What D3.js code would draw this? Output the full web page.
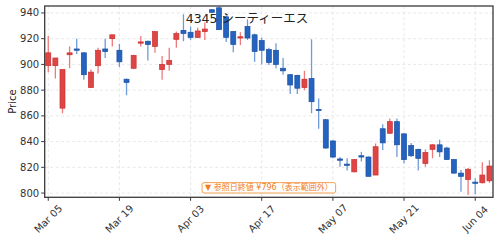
<!DOCTYPE html>
<html>
<head>
  <meta charset="utf-8">
  <title>4345 シーティーエス</title>
  <script src="https://d3js.org/d3.v7.min.js"></script>
  <style>
    body { margin: 0; background: #fff; }
    svg { font-family: "DejaVu Sans", "Noto Sans CJK JP", sans-serif; }
  </style>
</head>
<body>
<svg class="chart"></svg>
<script>

// trading days (2026), one per candle
const dates = [
  "03-05","03-06","03-09","03-10","03-11","03-12","03-13","03-16","03-17","03-18",
  "03-19","03-23","03-24","03-25","03-26","03-27","03-30","03-31","04-01","04-02",
  "04-03","04-06","04-07","04-08","04-09","04-10","04-13","04-14","04-15","04-16",
  "04-17","04-20","04-21","04-22","04-23","04-24","04-27","04-28","04-30","05-01",
  "05-07","05-08","05-11","05-12","05-13","05-14","05-15","05-18","05-19","05-20",
  "05-21","05-22","05-25","05-26","05-27","05-28","05-29","06-01","06-02","06-03",
  "06-04","06-05","06-08"
];

// OHLC
const open = [899,899,866,907.5,912,909,882,899,912,920, 911,888.5,897,916.5,918,914,896,900,919.5,926.5,
  925,921,925.5,942.5,944,937,925.5,920.5,929.5,923, 918.5,911.5,911,897,892,891.5,882,889,865,857,
  840.5,826.5,822.5,816.5,829,828,814,850,846.5,855.5, 846,837,834,823,834,837.5,835,826,815.5,810.5,
  808.5,808,809.5];
const high = [922,905,896,914,920,909.5,896,913,920,923, 916,889,907.5,922,918.5,925.5,906.5,913,925.5,939,
  929.5,928.5,932.5,943,945,938,926,925,935,924, 921,913,916.5,905,892.5,892,895,919.5,873.5,857.5,
  841,828,827,826.5,832,828.5,838.5,853.5,858,858, 846.5,839,834.5,834,838,841.5,836,826.5,818,819.5,
  811.5,824,825.5];
const low = [894,889,862,897,908,888,882,893,905,914, 898,876,896.5,914,903,909,888,895,913,918,
  919,920.5,919,940,927,917.5,909.5,915,919,902, 900,899.5,897,892,877,877,880,862,850,834.5,
  827,820.5,817.5,816,824.5,813,814,833.5,846,828, 823,828,817.5,820.5,827,828,826,815,801,798.5,
  799,807.5,808];
const close = [909,905,896,909,911,892,894,911,910,923, 902,886,907,917.5,915.5,925.5,900,903,924,924,
  921,926,927.5,940.5,927,921,915.5,921.5,920.5,910, 911,901.5,900,895,884,881.5,888.5,871,864.5,835,
  828,825.5,821.5,826,828,813,836,839,855.5,837.5, 826,829,827,831.5,837.5,832,826,815.5,813,818.5,
  808,814,821];

const yTicks = [800, 820, 840, 860, 880, 900, 920, 940];
const xTickIdx = [0, 10, 20, 30, 40, 50, 60];
const monthNames = {"03": "Mar", "04": "Apr", "05": "May", "06": "Jun"};

const W = 500, H = 241;
const margin = {top: 6, right: 7, bottom: 43.7, left: 44.7};
const width = W - margin.left - margin.right,
  height = H - margin.top - margin.bottom;

const svg = d3.select(".chart").attr("width", W).attr("height", H);
const chart = svg.append("g")
  .attr("transform", `translate(${margin.left}, ${margin.top})`);

const x = d3.scaleLinear().domain([-0.5, dates.length - 0.5]).range([0, width]);
const y = d3.scaleLinear().domain([796.7, 945.4]).range([height, 0]);

// grid
chart.append("g").selectAll("line").data(yTicks).join("line")
  .attr("x1", 0).attr("x2", width)
  .attr("y1", d => y(d)).attr("y2", d => y(d))
  .attr("stroke", "#e2e2e2").attr("stroke-width", 0.8).attr("stroke-dasharray", "3,2.5");
chart.append("g").selectAll("line").data(xTickIdx).join("line")
  .attr("y1", 0).attr("y2", height)
  .attr("x1", d => x(d)).attr("x2", d => x(d))
  .attr("stroke", "#e2e2e2").attr("stroke-width", 0.8).attr("stroke-dasharray", "3,2.5");

// candles
const rows = dates.map((d, i) => ({i, o: open[i], h: high[i], l: low[i], c: close[i]}));
const bw = 0.7 * (x(1) - x(0));
const up = d => d.c >= d.o;

const g = chart.append("g");
g.selectAll(".wick").data(rows).join("line")
  .attr("class", "wick")
  .attr("x1", d => x(d.i)).attr("x2", d => x(d.i))
  .attr("y1", d => y(d.h)).attr("y2", d => y(d.l))
  .attr("stroke", d => up(d) ? "#ee7a7a" : "#6f9bd8")
  .attr("stroke-width", 1.3);
g.selectAll(".body").data(rows).join("rect")
  .attr("class", "body")
  .attr("x", d => x(d.i) - bw / 2)
  .attr("width", bw)
  .attr("y", d => y(Math.max(d.o, d.c)))
  .attr("height", d => Math.max(1.2, Math.abs(y(d.o) - y(d.c))))
  .attr("fill", d => up(d) ? "#e04545" : "#2563c0")
  .attr("stroke", d => up(d) ? "#c93030" : "#1a4fa0")
  .attr("stroke-width", 0.7);

// axes frame
chart.append("rect")
  .attr("width", width).attr("height", height)
  .attr("fill", "none").attr("stroke", "#3a3a3a").attr("stroke-width", 1.3);

// y axis
const yAxis = chart.append("g");
yAxis.selectAll("line").data(yTicks).join("line")
  .attr("x1", -3.5).attr("x2", 0)
  .attr("y1", d => y(d)).attr("y2", d => y(d))
  .attr("stroke", "#3a3a3a").attr("stroke-width", 1);
yAxis.selectAll("text").data(yTicks).join("text")
  .attr("x", -5.5).attr("y", d => y(d))
  .attr("text-anchor", "end").attr("dominant-baseline", "central")
  .attr("font-size", 10).attr("fill", "#333")
  .text(d => d);

// x axis
const xAxis = chart.append("g").attr("transform", `translate(0, ${height})`);
xAxis.selectAll("line").data(xTickIdx).join("line")
  .attr("x1", d => x(d)).attr("x2", d => x(d))
  .attr("y1", 0).attr("y2", 3.5)
  .attr("stroke", "#3a3a3a").attr("stroke-width", 1);
xAxis.selectAll("text").data(xTickIdx).join("text")
  .attr("transform", d => `translate(${x(d)}, 21.5) rotate(-45)`)
  .attr("text-anchor", "middle").attr("dominant-baseline", "central")
  .attr("font-size", 10).attr("fill", "#333")
  .text(d => monthNames[dates[d].slice(0, 2)] + " " + dates[d].slice(3));

// y label
svg.append("text")
  .attr("transform", `translate(12, ${margin.top + height / 2}) rotate(-90)`)
  .attr("text-anchor", "middle").attr("dominant-baseline", "central")
  .attr("font-size", 10).attr("fill", "#222")
  .text("Price");

// title
svg.append("text")
  .attr("x", 247).attr("y", 23)
  .attr("text-anchor", "middle")
  .attr("font-size", 12.5).attr("fill", "#222")
  .text("4345 シーティーエス");

// out of range note
const note = chart.append("g").attr("transform", `translate(${width / 2}, ${height - 9.5})`);
const noteText = note.append("text")
  .attr("text-anchor", "middle").attr("dominant-baseline", "central")
  .attr("font-size", 8).attr("fill", "#f07d1e")
  .text("▼ 参照日終値 ¥796（表示範囲外）");
const bb = noteText.node().getBBox();
note.insert("rect", "text")
  .attr("x", bb.x - 3).attr("y", -5.2)
  .attr("width", bb.width + 6).attr("height", 10.4)
  .attr("rx", 2)
  .attr("fill", "#fff").attr("fill-opacity", 0.9)
  .attr("stroke", "#f5a050").attr("stroke-width", 1);

</script>
</body>
</html>
